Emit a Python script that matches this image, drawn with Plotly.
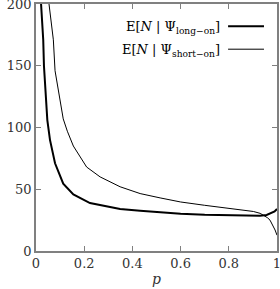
import plotly.graph_objects as go

# Data
p_long = [0.021, 0.030, 0.033, 0.047, 0.058, 0.079, 0.113, 0.155, 0.224, 0.266,
          0.321, 0.349, 0.432, 0.515, 0.600, 0.700, 0.791, 0.860, 0.929, 0.957,
          0.975, 0.990, 1.000]
v_long = [200, 171, 150, 106, 90, 71, 54.5, 45.8, 38.8, 37.0,
          34.8, 34.0, 32.6, 31.3, 30.1, 29.3, 28.8, 28.6, 28.6, 29.2,
          30.5, 32.0, 34.0]

p_short = [0.054, 0.072, 0.079, 0.113, 0.130, 0.155, 0.210, 0.266, 0.349, 0.432,
           0.515, 0.600, 0.700, 0.791, 0.860, 0.902, 0.930, 0.943, 0.960, 0.971,
           0.985, 0.992, 1.000]
v_short = [200, 171, 146, 107, 97, 85, 68, 60, 52, 46.5,
           43, 39.7, 37, 34.9, 33.2, 32, 30.5, 29, 27, 25,
           20, 17, 12.8]

x_ticks = [0, 0.2, 0.4, 0.6, 0.8, 1]
x_ticklabels = ["0", "0.2", "0.4", "0.6", "0.8", "1"]
y_ticks = [0, 50, 100, 150, 200]

legend_labels = ["E[<i>N</i> | Ψ<sub>long−on</sub>]", "E[<i>N</i> | Ψ<sub>short−on</sub>]"]
legend_widths = [2, 1]

FONT = "DejaVu Serif"
AXIS_COLOR = "#808080"

fig = go.Figure()
fig.add_trace(go.Scatter(x=p_long, y=v_long, mode="lines",
                         line=dict(color="black", width=2), name=legend_labels[0]))
fig.add_trace(go.Scatter(x=p_short, y=v_short, mode="lines",
                         line=dict(color="black", width=1), name=legend_labels[1]))

# Legend drawn manually (sample line to the right of the text)
for i, (lab, w) in enumerate(zip(legend_labels, legend_widths)):
    yp = 0.905 - i * 0.093
    fig.add_annotation(x=0.773, y=yp, xref="paper", yref="paper", text=lab,
                       showarrow=False, xanchor="right", yanchor="middle",
                       font=dict(family=FONT, size=13, color="black"))
    fig.add_shape(type="line", xref="paper", yref="paper",
                  x0=0.797, x1=0.946, y0=yp + 0.005, y1=yp + 0.005,
                  line=dict(color="black", width=w))

axis_common = dict(showline=True, linecolor=AXIS_COLOR, linewidth=1.5,
                   mirror="ticks", ticks="inside", ticklen=5, tickcolor=AXIS_COLOR,
                   showgrid=False, zeroline=False, ticklabeloverflow="allow",
                   tickfont=dict(family=FONT, size=13, color="#333333"))

fig.update_xaxes(range=[0, 1], tickvals=x_ticks, ticktext=x_ticklabels,
                 title=dict(text="<i>p</i>", font=dict(family=FONT, size=14, color="#333333"),
                            standoff=4),
                 automargin=False, **axis_common)
fig.update_yaxes(range=[0, 200], tickvals=y_ticks, automargin=False, **axis_common)

fig.update_layout(width=280, height=289, showlegend=False,
                  margin=dict(l=36, r=3, t=4, b=38),
                  plot_bgcolor="white", paper_bgcolor="white",
                  font=dict(family=FONT))

fig.write_html("out.html")
